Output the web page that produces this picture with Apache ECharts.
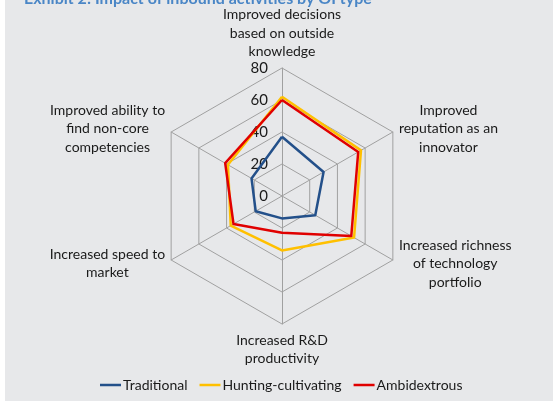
<!DOCTYPE html>
<html>
<head>
<meta charset="utf-8">
<script src="https://cdn.jsdelivr.net/npm/echarts@6/dist/echarts.min.js"></script>
<style>
  html, body { margin: 0; padding: 0; background: #fff; }
  #chart { position: absolute; left: 5px; top: 0; width: 548px; height: 401px; background: #e7e8ea; }
</style>
</head>
<body>
<div id="chart"></div>
<script>
// axes go counterclockwise from the top, as echarts draws them
const axisNames = [
  'Improved decisions\nbased on outside\nknowledge',
  'Improved ability to\nfind non-core\ncompetencies',
  'Increased speed to\nmarket',
  'Increased R&D\nproductivity',
  'Increased richness\nof technology\nportfolio',
  'Improved\nreputation as an\ninnovator'
]
const seriesNames = ['Traditional', 'Hunting-cultivating', 'Ambidextrous']
const traditional = [37, 22, 19, 14, 24, 30]
const huntingCultivating = [62, 39, 37, 34, 52, 57]
const ambidextrous = [60, 41, 35, 23, 50, 55]
const axisMax = 80
const colors = ['#23508a', '#ffc000', '#e00000']

const font = 'Lato, "Liberation Sans", sans-serif'

window.onload = function () {
  const myChart = echarts.init(document.getElementById('chart'))

  const indicator = axisNames.map((name, i) => {
    const item = { name: name, min: 0, max: axisMax }
    // only the vertical axis carries tick labels
    if (i === 0) {
      item.axisLabel = {
        show: true,
        fontFamily: font,
        fontSize: 15,
        color: '#1a1a1a',
        margin: 14
      }
    }
    return item
  })

  const option = {
    animation: false,
    title: {
      text: 'Exhibit 2: Impact of inbound activities by OI type',
      left: 14,
      top: -14,
      textStyle: { fontFamily: font, fontSize: 16, fontWeight: 'bold', color: '#4a86c6' }
    },
    color: colors,
    legend: {
      data: seriesNames,
      left: 90,
      top: 373,
      icon: 'rect',
      itemWidth: 21,
      itemHeight: 2.5,
      itemGap: 12,
      textStyle: { fontFamily: font, fontSize: 14, color: '#1a1a1a', padding: [0, 0, 0, -3] }
    },
    radar: {
      center: [277, 196],
      radius: 128,
      shape: 'polygon',
      splitNumber: 4,
      nameGap: 7,
      axisName: {
        color: '#1a1a1a',
        formatter: function (name) {
          return name.split('\n').map(l => '{c|' + l + '}').join('\n')
        },
        rich: {
          c: { align: 'center', fontFamily: font, fontSize: 14, lineHeight: 18.5, color: '#1a1a1a' }
        }
      },
      axisLine: { lineStyle: { color: '#a0a0a0', width: 1 } },
      splitLine: { lineStyle: { color: '#a0a0a0', width: 1 } },
      splitArea: { show: false },
      axisTick: { show: false },
      axisLabel: { show: false },
      indicator: indicator
    },
    series: [{
      type: 'radar',
      symbol: 'none',
      lineStyle: { width: 2.5 },
      data: [
        { name: seriesNames[0], value: traditional, lineStyle: { color: colors[0] } },
        { name: seriesNames[1], value: huntingCultivating, lineStyle: { color: colors[1] } },
        { name: seriesNames[2], value: ambidextrous, lineStyle: { color: colors[2] } }
      ]
    }]
  }
  myChart.setOption(option)
}
</script>
</body>
</html>
